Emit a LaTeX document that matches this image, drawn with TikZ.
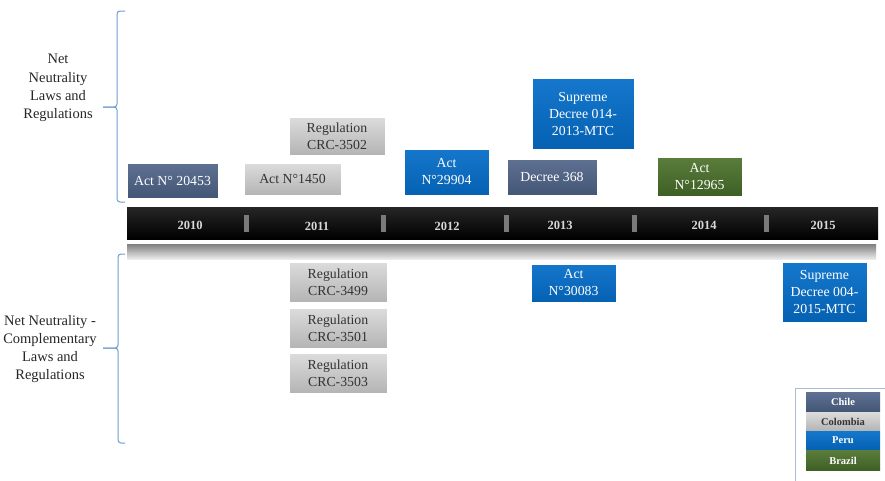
\documentclass[tikz,border=0pt]{standalone}
\usepackage{fontspec}
\setmainfont{Liberation Serif}
\definecolor{chileT}{HTML}{5E7192}
\definecolor{chileB}{HTML}{435676}
\definecolor{colT}{HTML}{DCDCDC}
\definecolor{colB}{HTML}{B4B4B4}
\definecolor{peruT}{HTML}{1577CC}
\definecolor{peruB}{HTML}{0561B2}
\definecolor{braT}{HTML}{5A7D3C}
\definecolor{braB}{HTML}{3D5F24}
\definecolor{bracec}{HTML}{6E9DD2}
\definecolor{legframe}{HTML}{A9BCD3}
\definecolor{tickc}{HTML}{7A7A7A}
\begin{document}
\begin{tikzpicture}[x=1pt,y=-1pt,
  boxbase/.style={rectangle,inner sep=1pt,align=center,font=\fontsize{13.8}{17}\selectfont,draw=white,line width=0.5pt},
  chile/.style={boxbase,top color=chileT,bottom color=chileB,text=white},
  colombia/.style={boxbase,top color=colT,bottom color=colB,text=black!80},
  peru/.style={boxbase,top color=peruT,bottom color=peruB,text=white},
  brazil/.style={boxbase,top color=braT,bottom color=braB,text=white},
  yearlbl/.style={font=\fontsize{12.5}{14}\selectfont\bfseries,text=white!85!black},
  tickmark/.style={fill=tickc,draw=none},
  bracepath/.style={draw=bracec,line width=1pt,rounded corners=3pt},
  sidelbl/.style={align=center,font=\fontsize{14.5}{18.3}\selectfont,text=black!85},
  legbox/.style={rectangle,inner sep=0pt,font=\fontsize{10.5}{12}\selectfont\bfseries,minimum width=74,minimum height=18.5}
]
\useasboundingbox (0,0) rectangle (885,480);
% braces
\draw[bracepath] (125,11) -- (117,11) -- (117,107) -- (103,107);
\draw[bracepath] (103,107) -- (117,107) -- (117,202) -- (125,202);
\draw[bracepath] (125,254) -- (118,254) -- (118,348) -- (103,348);
\draw[bracepath] (103,348) -- (118,348) -- (118,443) -- (125,443);
\node[sidelbl] (lab1) at (58,88) {Net\\Neutrality\\Laws and\\Regulations};
\node[sidelbl] (lab2) at (50,349) {Net Neutrality -\\Complementary\\Laws and\\Regulations};
% timeline
\path[top color=black!85,bottom color=black,draw=none] (127,207) rectangle (878,239);
\path[top color=black!50,bottom color=black!8,draw=none] (127,244) rectangle (876,259);
\foreach \tx in {246,383,506,634,766}{\path[tickmark] (\tx-2.5,215) rectangle (\tx+2.5,232);}
\node[yearlbl] (y2010) at (190,225) {2010};
\node[yearlbl] (y2011) at (317,226) {2011};
\node[yearlbl] (y2012) at (447,226) {2012};
\node[yearlbl] (y2013) at (560,225) {2013};
\node[yearlbl] (y2014) at (704,225) {2014};
\node[yearlbl] (y2015) at (823,225) {2015};
% upper boxes
\node[chile,minimum width=91,minimum height=35] (n1) at (172.5,180.5) {Act N° 20453};
\node[colombia,minimum width=97,minimum height=32] (n2) at (292.5,179) {Act N°1450};
\node[colombia,minimum width=96,minimum height=38] (n3) at (337,136) {Regulation\\CRC-3502};
\node[peru,minimum width=85,minimum height=46] (n4) at (446.5,172) {Act\\N°29904};
\node[chile,minimum width=90,minimum height=36] (n5) at (552,177) {Decree 368};
\node[peru,minimum width=102,minimum height=71] (n6) at (583,113.5) {Supreme\\Decree 014-\\2013-MTC};
\node[brazil,minimum width=85,minimum height=39] (n7) at (699.5,176.5) {Act\\N°12965};
% lower boxes
\node[colombia,minimum width=98,minimum height=40] (n8) at (338,282) {Regulation\\CRC-3499};
\node[colombia,minimum width=98,minimum height=40] (n9) at (338,328) {Regulation\\CRC-3501};
\node[colombia,minimum width=98,minimum height=40] (n10) at (338,373) {Regulation\\CRC-3503};
\node[peru,minimum width=85,minimum height=38] (n11) at (573.5,283) {Act\\N°30083};
\node[peru,minimum width=85,minimum height=60] (n12) at (824.5,292) {Supreme\\Decree 004-\\2015-MTC};
% legend
\draw[legframe,line width=1pt] (895,388) -- (795,388) -- (795,490);
\node[legbox,top color=chileT,bottom color=chileB,text=white] (lc) at (843,402) {Chile};
\node[legbox,top color=colT,bottom color=colB,text=black!80] (lco) at (843,421.5) {Colombia};
\node[legbox,top color=peruT,bottom color=peruB,text=white] (lp) at (843,440.5) {Peru};
\node[legbox,top color=braT,bottom color=braB,text=white,minimum height=20] (lb) at (843,460.5) {Brazil};
\end{tikzpicture}
\end{document}
